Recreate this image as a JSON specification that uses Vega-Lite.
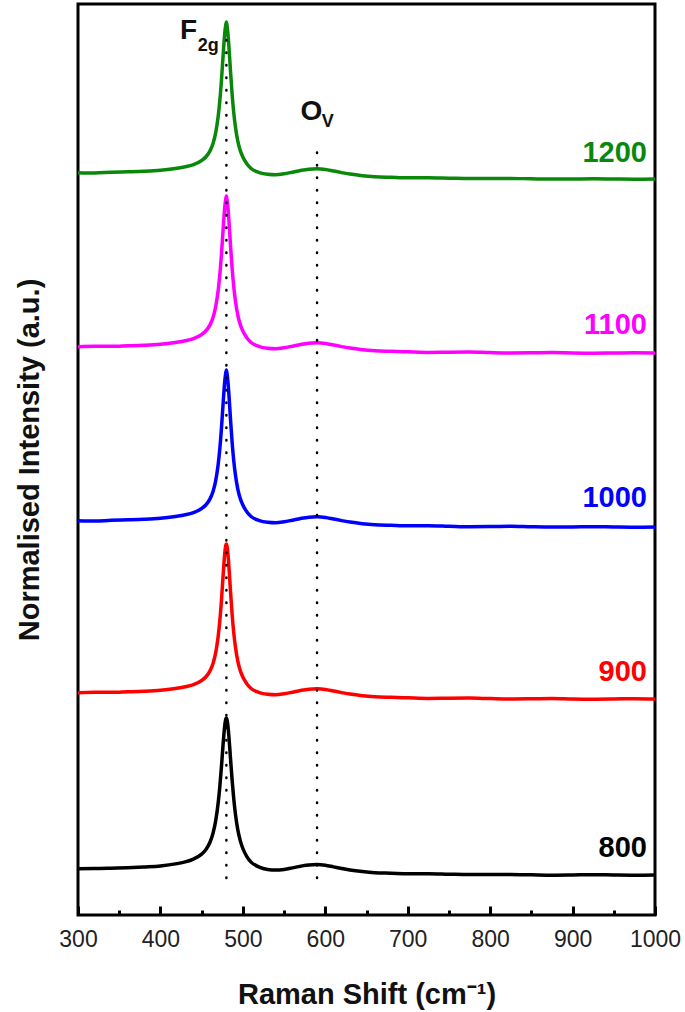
{
  "$schema": "https://vega.github.io/schema/vega-lite/v6.json",
  "width": 577,
  "height": 911,
  "autosize": {"type": "none"},
  "padding": {"left": 78, "top": 4, "right": 30, "bottom": 97},
  "background": "white",
  "config": {
    "view": {"stroke": "black", "strokeWidth": 3},
    "font": "Liberation Sans"
  },
  "datasets": {
    "spectra": [
      {"x": 300, "800": 46.3, "900": 222.3, "1000": 394.3, "1100": 568.3, "1200": 742.3},
      {"x": 320, "800": 46.4, "900": 222.8, "1000": 393.9, "1100": 568.7, "1200": 742.0},
      {"x": 340, "800": 46.8, "900": 222.7, "1000": 394.7, "1100": 568.7, "1200": 742.7},
      {"x": 360, "800": 47.3, "900": 223.2, "1000": 395.2, "1100": 569.2, "1200": 743.2},
      {"x": 380, "800": 48.1, "900": 223.8, "1000": 395.8, "1100": 569.8, "1200": 743.8},
      {"x": 400, "800": 49.1, "900": 224.8, "1000": 396.8, "1100": 570.8, "1200": 744.8},
      {"x": 420, "800": 51.4, "900": 226.7, "1000": 398.7, "1100": 572.7, "1200": 746.7},
      {"x": 430, "800": 53.1, "900": 228.2, "1000": 400.2, "1100": 574.2, "1200": 748.2},
      {"x": 440, "800": 55.9, "900": 230.4, "1000": 402.4, "1100": 576.4, "1200": 750.4},
      {"x": 450, "800": 60.9, "900": 234.5, "1000": 406.5, "1100": 580.5, "1200": 754.5},
      {"x": 455, "800": 65.2, "900": 238.0, "1000": 410.0, "1100": 584.0, "1200": 758.0},
      {"x": 460, "800": 72.5, "900": 243.9, "1000": 415.9, "1100": 589.9, "1200": 763.9},
      {"x": 464, "800": 82.4, "900": 252.1, "1000": 424.1, "1100": 598.1, "1200": 772.1},
      {"x": 467, "800": 94.0, "900": 262.2, "1000": 434.2, "1100": 608.2, "1200": 782.2},
      {"x": 470, "800": 111.7, "900": 278.2, "1000": 450.2, "1100": 624.2, "1200": 798.2},
      {"x": 472, "800": 127.9, "900": 293.8, "1000": 465.8, "1100": 639.8, "1200": 813.8},
      {"x": 474, "800": 148.1, "900": 314.4, "1000": 486.4, "1100": 660.4, "1200": 834.4},
      {"x": 476, "800": 170.3, "900": 338.9, "1000": 510.9, "1100": 684.9, "1200": 858.9},
      {"x": 477, "800": 180.7, "900": 351.0, "1000": 523.0, "1100": 697.0, "1200": 871.0},
      {"x": 478, "800": 189.3, "900": 361.4, "1000": 533.4, "1100": 707.4, "1200": 881.4},
      {"x": 479, "800": 195.0, "900": 368.5, "1000": 540.5, "1100": 714.5, "1200": 888.5},
      {"x": 480, "800": 197.0, "900": 371.0, "1000": 545.0, "1100": 719.0, "1200": 893.0},
      {"x": 481, "800": 194.5, "900": 368.0, "1000": 540.0, "1100": 714.0, "1200": 888.0},
      {"x": 482, "800": 188.3, "900": 360.4, "1000": 532.4, "1100": 706.4, "1200": 880.4},
      {"x": 483, "800": 179.2, "900": 349.5, "1000": 521.5, "1100": 695.5, "1200": 869.5},
      {"x": 484, "800": 168.3, "900": 336.9, "1000": 508.9, "1100": 682.9, "1200": 856.9},
      {"x": 485, "800": 156.7, "900": 323.9, "1000": 495.9, "1100": 669.9, "1200": 843.9},
      {"x": 487, "800": 134.6, "900": 300.5, "1000": 472.5, "1100": 646.5, "1200": 820.5},
      {"x": 489, "800": 115.8, "900": 281.9, "1000": 453.9, "1100": 627.9, "1200": 801.9},
      {"x": 491, "800": 100.9, "900": 268.0, "1000": 440.0, "1100": 614.0, "1200": 788.0},
      {"x": 494, "800": 84.6, "900": 253.3, "1000": 425.3, "1100": 599.3, "1200": 773.3},
      {"x": 497, "800": 73.9, "900": 244.1, "1000": 416.1, "1100": 590.1, "1200": 764.1},
      {"x": 500, "800": 66.5, "900": 237.9, "1000": 409.9, "1100": 583.9, "1200": 757.9},
      {"x": 505, "800": 58.2, "900": 231.0, "1000": 403.0, "1100": 577.0, "1200": 751.0},
      {"x": 510, "800": 52.9, "900": 226.5, "1000": 398.5, "1100": 572.5, "1200": 746.5},
      {"x": 520, "800": 47.9, "900": 222.4, "1000": 394.4, "1100": 568.4, "1200": 742.4},
      {"x": 530, "800": 45.6, "900": 220.7, "1000": 392.7, "1100": 566.7, "1200": 740.7},
      {"x": 540, "800": 44.9, "900": 220.2, "1000": 392.2, "1100": 566.2, "1200": 740.2},
      {"x": 550, "800": 45.6, "900": 221.2, "1000": 393.2, "1100": 567.2, "1200": 741.2},
      {"x": 560, "800": 47.1, "900": 222.8, "1000": 394.8, "1100": 568.8, "1200": 742.8},
      {"x": 570, "800": 48.8, "900": 224.5, "1000": 396.5, "1100": 570.5, "1200": 744.5},
      {"x": 580, "800": 50.1, "900": 225.8, "1000": 397.8, "1100": 571.8, "1200": 745.8},
      {"x": 590, "800": 50.4, "900": 226.2, "1000": 398.2, "1100": 572.2, "1200": 746.2},
      {"x": 600, "800": 49.7, "900": 225.6, "1000": 397.6, "1100": 571.6, "1200": 745.6},
      {"x": 610, "800": 48.1, "900": 224.0, "1000": 396.0, "1100": 570.0, "1200": 744.0},
      {"x": 620, "800": 46.5, "900": 222.4, "1000": 394.4, "1100": 568.4, "1200": 742.4},
      {"x": 630, "800": 45.0, "900": 220.9, "1000": 392.9, "1100": 566.9, "1200": 740.9},
      {"x": 645, "800": 43.4, "900": 219.3, "1000": 391.3, "1100": 565.3, "1200": 739.3},
      {"x": 660, "800": 42.3, "900": 218.3, "1000": 390.3, "1100": 564.3, "1200": 738.3},
      {"x": 680, "800": 41.8, "900": 217.7, "1000": 389.7, "1100": 563.7, "1200": 737.7},
      {"x": 700, "800": 41.2, "900": 217.2, "1000": 389.2, "1100": 563.2, "1200": 737.2},
      {"x": 725, "800": 41.3, "900": 216.6, "1000": 389.3, "1100": 562.6, "1200": 737.2},
      {"x": 750, "800": 40.8, "900": 216.8, "1000": 388.8, "1100": 562.8, "1200": 736.8},
      {"x": 775, "800": 40.4, "900": 216.9, "1000": 388.3, "1100": 562.9, "1200": 736.4},
      {"x": 800, "800": 40.4, "900": 216.4, "1000": 388.4, "1100": 562.4, "1200": 736.4},
      {"x": 825, "800": 40.6, "900": 216.0, "1000": 388.7, "1100": 562.1, "1200": 736.6},
      {"x": 850, "800": 40.2, "900": 216.2, "1000": 388.2, "1100": 562.2, "1200": 736.2},
      {"x": 875, "800": 39.8, "900": 216.5, "1000": 387.9, "1100": 562.4, "1200": 735.9},
      {"x": 900, "800": 40.0, "900": 216.0, "1000": 388.0, "1100": 562.0, "1200": 736.0},
      {"x": 925, "800": 40.3, "900": 215.8, "1000": 388.3, "1100": 561.8, "1200": 736.2},
      {"x": 950, "800": 40.0, "900": 216.0, "1000": 388.0, "1100": 562.0, "1200": 736.0},
      {"x": 975, "800": 39.8, "900": 216.3, "1000": 387.8, "1100": 562.2, "1200": 735.8},
      {"x": 1000, "800": 40.0, "900": 216.0, "1000": 388.0, "1100": 562.0, "1200": 736.0}
    ],
    "labels": [
      {"x": 1000, "y": 762, "sample": "1200"},
      {"x": 1000, "y": 590, "sample": "1100"},
      {"x": 1000, "y": 417, "sample": "1000"},
      {"x": 1000, "y": 243, "sample": "900"},
      {"x": 1000, "y": 67, "sample": "800"}
    ],
    "guides": [
      {"x": 480, "y": 37, "y2": 887},
      {"x": 590, "y": 37, "y2": 766}
    ],
    "bigText": [
      {"x": 434, "y": 884, "t": "F"},
      {"x": 583, "y": 803, "t": "O"}
    ],
    "subText": [
      {"x": 458, "y": 869, "t": "2g"},
      {"x": 603, "y": 793, "t": "V"}
    ]
  },
  "layer": [
    {
      "data": {"name": "spectra"},
      "transform": [{"fold": ["800", "900", "1000", "1100", "1200"], "as": ["sample", "y"]}],
      "mark": {"type": "line", "strokeWidth": 3.5, "interpolate": "monotone"},
      "encoding": {
        "x": {
          "field": "x", "type": "quantitative",
          "scale": {"domain": [300, 1000], "nice": false, "zero": false},
          "axis": {
            "title": "Raman Shift (cm⁻¹)",
            "titleFont": "Liberation Sans", "titleFontSize": 29, "titleFontWeight": "bold", "titleColor": "#111",
            "titlePadding": 25,
            "values": [300, 350, 400, 450, 500, 550, 600, 650, 700, 750, 800, 850, 900, 950, 1000],
            "format": "d",
            "labelExpr": "datum.value % 100 === 0 ? datum.label : ''",
            "labelFont": "Liberation Sans", "labelFontSize": 23, "labelColor": "#222",
            "labelFlush": false, "labelOverlap": false, "labelPadding": 22,
            "domain": false, "grid": false,
            "tickColor": "black", "tickWidth": 3,
            "tickSize": {"condition": {"test": "datum.value % 100 === 0", "value": -9}, "value": -5}
          }
        },
        "y": {
          "field": "y", "type": "quantitative",
          "scale": {"domain": [0, 911], "nice": false, "zero": false},
          "axis": {
            "title": "Normalised Intensity (a.u.)",
            "titleFont": "Liberation Sans", "titleFontSize": 29, "titleFontWeight": "bold", "titleColor": "#111",
            "titlePadding": 34,
            "labels": false, "ticks": false, "domain": false, "grid": false
          }
        },
        "color": {
          "field": "sample", "type": "nominal",
          "scale": {"domain": ["800", "900", "1000", "1100", "1200"], "range": ["#000000", "#ff0000", "#0000ff", "#ff00ff", "#0a880a"]},
          "legend": null
        }
      }
    },
    {
      "data": {"name": "guides"},
      "mark": {"type": "rule", "color": "black", "strokeWidth": 2.5, "strokeDash": [0.5, 12], "strokeCap": "round"},
      "encoding": {
        "x": {"field": "x", "type": "quantitative"},
        "y": {"field": "y", "type": "quantitative"},
        "y2": {"field": "y2"}
      }
    },
    {
      "data": {"name": "labels"},
      "mark": {"type": "text", "align": "right", "baseline": "middle", "dx": -8, "fontSize": 29, "fontWeight": "bold", "font": "Liberation Sans"},
      "encoding": {
        "x": {"field": "x", "type": "quantitative"},
        "y": {"field": "y", "type": "quantitative"},
        "text": {"field": "sample"},
        "color": {"field": "sample", "type": "nominal", "legend": null}
      }
    },
    {
      "data": {"name": "bigText"},
      "mark": {"type": "text", "align": "center", "baseline": "middle", "fontSize": 28, "fontWeight": "bold", "font": "Liberation Sans", "color": "#111"},
      "encoding": {
        "x": {"field": "x", "type": "quantitative"},
        "y": {"field": "y", "type": "quantitative"},
        "text": {"field": "t"}
      }
    },
    {
      "data": {"name": "subText"},
      "mark": {"type": "text", "align": "center", "baseline": "middle", "fontSize": 18, "fontWeight": "bold", "font": "Liberation Sans", "color": "#111"},
      "encoding": {
        "x": {"field": "x", "type": "quantitative"},
        "y": {"field": "y", "type": "quantitative"},
        "text": {"field": "t"}
      }
    }
  ]
}
